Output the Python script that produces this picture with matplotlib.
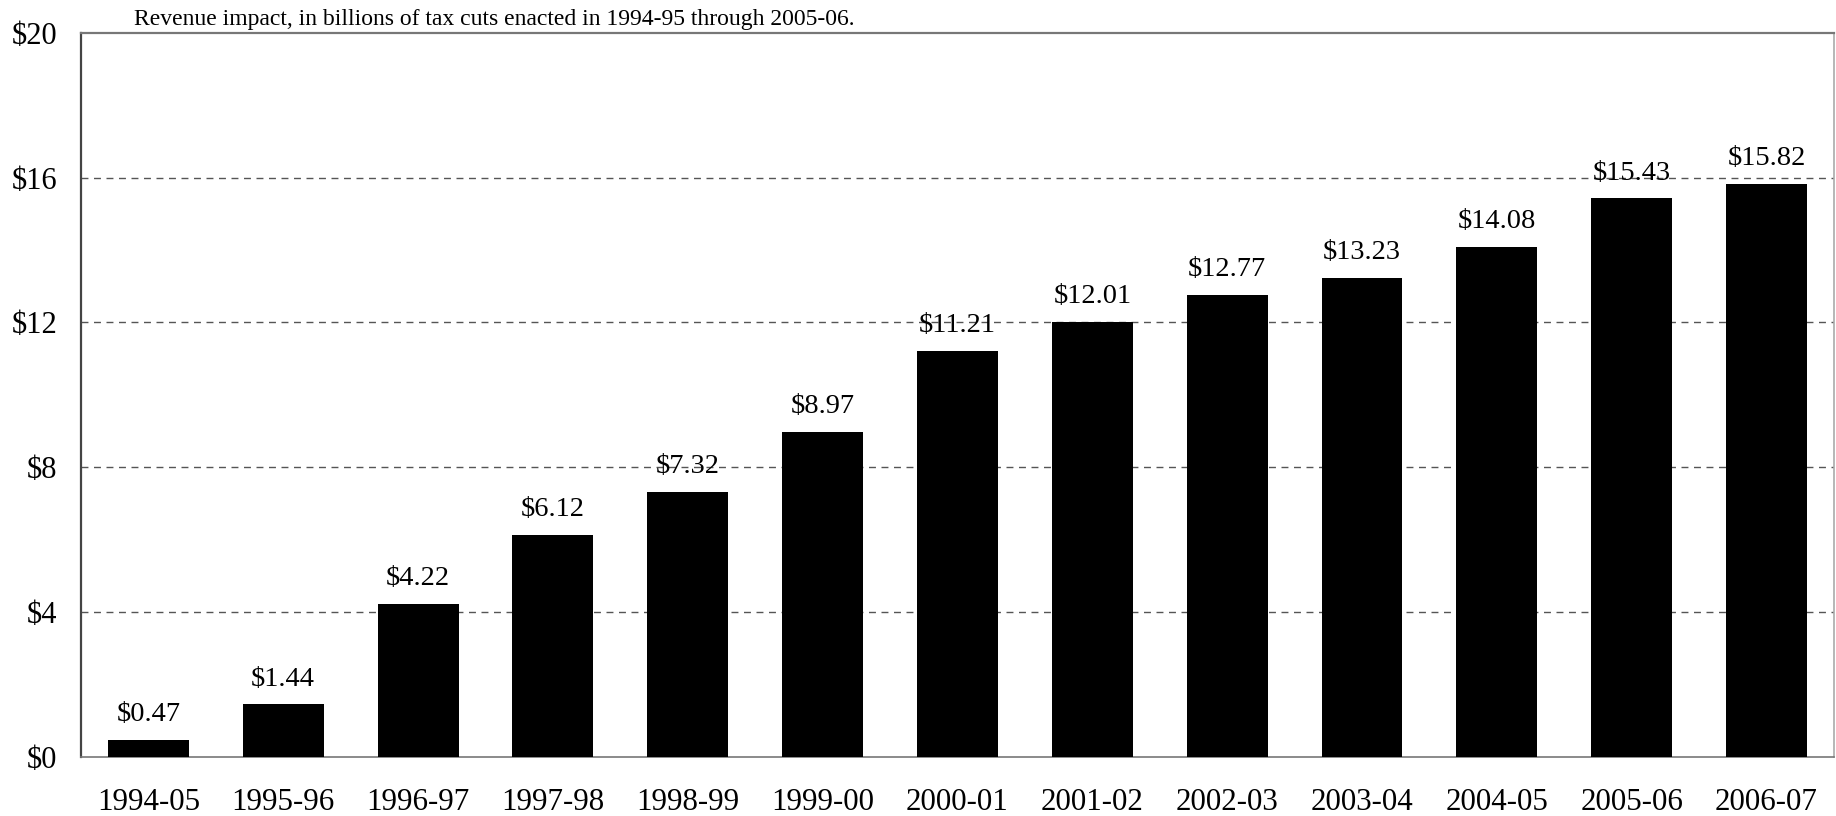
import matplotlib
matplotlib.use("Agg")
import matplotlib.pyplot as plt
import numpy as np

years = ["1994-05", "1995-96", "1996-97", "1997-98", "1998-99", "1999-00",
         "2000-01", "2001-02", "2002-03", "2003-04", "2004-05", "2005-06", "2006-07"]
impact = [0.47, 1.44, 4.22, 6.12, 7.32, 8.97, 11.21, 12.01, 12.77, 13.23, 14.08, 15.43, 15.82]
yticks = [0, 4, 8, 12, 16, 20]
note = "Revenue impact, in billions of tax cuts enacted in 1994-95 through 2005-06."

plt.rcParams["font.family"] = ["Liberation Serif", "DejaVu Serif"]

fig = plt.figure(figsize=(18.36, 8.16), dpi=100)
ax = fig.add_axes([0.0441, 0.0729, 0.9548, 0.8867])

x = np.arange(len(years))
ax.bar(x, impact, width=0.6, color="black", zorder=3)

for xi, v in zip(x, impact):
    ax.annotate(f"${v:.2f}", (xi, v), xytext=(0, 13.5), textcoords="offset points",
                ha="center", va="baseline", fontsize=20.5, color="black", zorder=4)

ax.set_xlim(-0.5, len(years) - 0.5)
ax.set_ylim(0, 20)
ax.set_yticks(yticks)
ax.set_yticklabels([f"${t}" for t in yticks], fontsize=22)
ax.set_xticks(x)
ax.set_xticklabels(years, fontsize=22.3)
ax.tick_params(axis="y", length=0, pad=17)
ax.tick_params(axis="x", length=0, pad=22.5)

for t in [4, 8, 12, 16]:
    ax.axhline(t, color="#555555", linestyle=(0, (5, 4)), linewidth=1.0, zorder=1)

ax.spines["left"].set_color("#444444")
ax.spines["left"].set_linewidth(1.6)
ax.spines["top"].set_color("#777777")
ax.spines["top"].set_linewidth(1.6)
ax.spines["right"].set_color("#aaaaaa")
ax.spines["right"].set_linewidth(1.2)
ax.spines["bottom"].set_color("#777777")
ax.spines["bottom"].set_linewidth(1.2)

fig.text(134 / 1836, 1 - 19 / 816, note, fontsize=17, ha="left", va="center")

fig.savefig("out.png", dpi=100, facecolor="white")
